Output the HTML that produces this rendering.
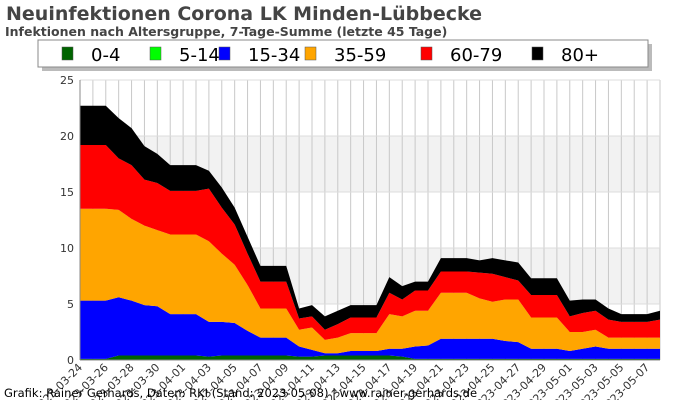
<!DOCTYPE html>
<html><head><meta charset="utf-8"><style>
body{margin:0;background:#fff;}
svg{display:block;font-family:"DejaVu Sans","Liberation Sans",sans-serif;}
</style></head><body>
<svg id="c" width="700" height="400">
<text x="6" y="20" font-size="19" font-weight="bold" fill="#444">Neuinfektionen Corona LK Minden-Lübbecke</text>
<text x="5" y="36" font-size="12.5" font-weight="bold" fill="#444">Infektionen nach Altersgruppe, 7-Tage-Summe (letzte 45 Tage)</text>
<g id="plot"></g>
<g id="legend"></g>
<text x="4" y="397" font-size="11.5" fill="#000">Grafik: Rainer Gerhards, Daten: RKI (Stand: 2023-05-08) | www.rainer-gerhards.de</text>
</svg>
<script>
const startDate = "2023-03-24";
const seriesNames = ["0-4","5-14","15-34","35-59","60-79","80+"];
const seriesColors = ["#006400","#00ff00","#0000ff","#ffa500","#ff0000","#000000"];
const yTicks = [0,5,10,15,20,25];
// cumulative tops, converted to per-group values below
const top04 = [0.1,0.1,0.1,0.4,0.4,0.4,0.4,0.4,0.4,0.4,0.3,0.4,0.4,0.4,0.4,0.4,0.4,0.3,0.3,0.4,0.4,0.4,0.4,0.4,0.4,0.3,0.1,0.1,0.1,0.1,0.1,0.1,0.1,0.1,0.1,0.1,0.1,0.1,0.1,0.1,0.1,0.1,0.1,0.1,0.1,0.1];
const top514 = top04.slice();
const top1534 = [5.3,5.3,5.3,5.6,5.3,4.9,4.8,4.1,4.1,4.1,3.4,3.4,3.3,2.6,2.0,2.0,2.0,1.2,0.9,0.6,0.6,0.8,0.8,0.8,1.0,1.0,1.2,1.3,1.9,1.9,1.9,1.9,1.9,1.7,1.6,1.0,1.0,1.0,0.8,1.0,1.2,1.0,1.0,1.0,1.0,1.0];
const top3559 = [13.5,13.5,13.5,13.4,12.6,12.0,11.6,11.2,11.2,11.2,10.6,9.5,8.5,6.7,4.6,4.6,4.6,2.7,2.9,1.8,2.0,2.4,2.4,2.4,4.1,3.9,4.4,4.4,6.0,6.0,6.0,5.5,5.2,5.4,5.4,3.8,3.8,3.8,2.5,2.5,2.7,2.0,2.0,2.0,2.0,2.0];
const top6079 = [19.2,19.2,19.2,18.0,17.4,16.1,15.8,15.1,15.1,15.1,15.3,13.6,12.1,9.5,7.0,7.0,7.0,3.7,3.9,2.7,3.2,3.8,3.8,3.8,6.0,5.4,6.2,6.2,7.9,7.9,7.9,7.8,7.7,7.4,7.1,5.8,5.8,5.8,3.9,4.2,4.4,3.6,3.4,3.4,3.4,3.6];
const top80 = [22.7,22.7,22.7,21.6,20.7,19.1,18.4,17.4,17.4,17.4,16.9,15.4,13.6,11.0,8.4,8.4,8.4,4.6,4.9,3.9,4.4,4.9,4.9,4.9,7.4,6.6,7.0,7.0,9.1,9.1,9.1,8.9,9.1,8.9,8.7,7.3,7.3,7.3,5.3,5.4,5.4,4.6,4.1,4.1,4.1,4.4];
const tops = [top04,top514,top1534,top3559,top6079,top80];
const values = tops.map((t,k)=>t.map((v,i)=>+(v-(k?tops[k-1][i]:0)).toFixed(2)));

const NS="http://www.w3.org/2000/svg";
const X0=80,X1=660,Y0=360,Y1=80,YMAX=25;
const n=values[0].length;
const xs=i=>X0+(X1-X0)*i/(n-1);
const ys=v=>Y0-(Y0-Y1)*v/YMAX;
const plot=document.getElementById('plot');
function mk(tag,attrs,parent){const e=document.createElementNS(NS,tag);for(const k in attrs)e.setAttribute(k,attrs[k]);(parent||plot).appendChild(e);return e;}
// bands
for(let b=0;b<yTicks.length-1;b++){ if(b%2===1){const r=mk('rect',{x:X0,y:ys(yTicks[b+1]),width:X1-X0,height:ys(yTicks[b])-ys(yTicks[b+1]),fill:'#f2f2f2'});

}}
// vertical grid
for(let i=0;i<n;i++){const l=mk('line',{x1:xs(i),x2:xs(i),y1:Y1,y2:Y0,stroke:'#c8c8c8','stroke-width':1});

}
yTicks.forEach(t=>{const l=mk('line',{x1:X0,x2:X1,y1:ys(t),y2:ys(t),stroke:'#dcdcdc'});


const tx=mk('text',{x:X0-6,y:ys(t)+4,'font-size':11,'text-anchor':'end',fill:'#333'});tx.textContent=t;

});
// areas
const cum=new Array(n).fill(0);
values.forEach((vals,k)=>{const lower=cum.slice();vals.forEach((v,i)=>cum[i]+=v);
let d='M'+xs(0)+','+ys(cum[0]);for(let i=1;i<n;i++)d+='L'+xs(i)+','+ys(cum[i]);
for(let i=n-1;i>=0;i--)d+='L'+xs(i)+','+ys(lower[i]);d+='Z';
const p=mk('path',{d:d,fill:seriesColors[k]});

});
// axes
mk('line',{x1:X0,x2:X0,y1:Y1,y2:Y0,stroke:'#888'});
mk('line',{x1:X0,x2:X1,y1:Y0,y2:Y0,stroke:'#888'});
// x labels
const sd=new Date(startDate+'T00:00:00Z');
for(let i=0;i<n;i+=2){const d=new Date(sd.getTime()+i*86400000);const s=d.toISOString().slice(0,10);
const t=mk('text',{x:xs(i)+3,y:Y0+8,'font-size':11,'text-anchor':'end',fill:'#333',transform:'rotate(-45 '+(xs(i)+3)+' '+(Y0+8)+')'});t.textContent=s;

}
// legend
const lg=document.getElementById('legend');
mk('rect',{x:42,y:44,width:610,height:27,fill:'#bbb'},lg);
mk('rect',{x:38,y:40,width:610,height:27,fill:'#fff',stroke:'#888'},lg);
const lx=[62,150,219,305,421,532];
seriesNames.forEach((nm,k)=>{const g=mk('g',{},lg);


mk('rect',{x:lx[k],y:47,width:11,height:13,fill:seriesColors[k],stroke:'#555','stroke-width':0.5},g);
const t=mk('text',{x:lx[k]+29,y:61,'font-size':18,fill:'#000'},g);t.textContent=nm;});
</script>
</body></html>
